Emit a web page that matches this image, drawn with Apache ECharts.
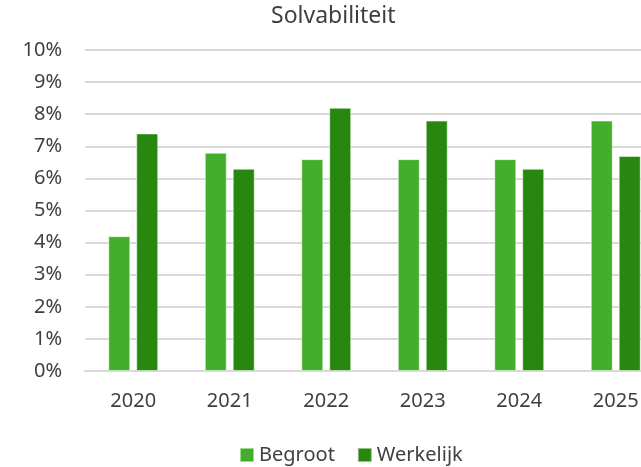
<!DOCTYPE html>
<html>
<head>
<meta charset="utf-8">
<script src="https://cdn.jsdelivr.net/npm/echarts@6/dist/echarts.min.js"></script>
<style>
  html, body { margin: 0; padding: 0; background: #fff; }
  #chart { width: 641px; height: 467px; }
</style>
</head>
<body>
<div id="chart"></div>
<script>
// jaren
const years = ['2020', '2021', '2022', '2023', '2024', '2025'];
// solvabiliteit in procenten
const begroot = [4.2, 6.8, 6.6, 6.6, 6.6, 7.8];
const werkelijk = [7.4, 6.3, 8.2, 7.8, 6.3, 6.7];

const font = '"Noto Sans", sans-serif';
const textColor = '#404040';

const chart = echarts.init(document.getElementById('chart'));

chart.setOption({
    animation: false,
    title: {
        text: 'Solvabiliteit',
        left: 266,
        top: 0,
        textStyle: { fontFamily: font, fontSize: 23, fontWeight: 'normal', color: textColor },
    },
    legend: {
        left: 234,
        top: 440,
        itemWidth: 14,
        itemHeight: 14,
        itemGap: 22,
        icon: 'rect',
        textStyle: { fontFamily: font, fontSize: 20, color: textColor },
        data: ['Begroot', 'Werkelijk'],
    },
    // plot loopt rechts buiten het beeld door
    grid: { left: 85, top: 50, width: 579, height: 321, outerBoundsMode: 'none' },
    xAxis: {
        type: 'category',
        data: years,
        axisLine: { lineStyle: { color: '#d9d9d9', width: 2 } },
        axisTick: { show: false },
        axisLabel: { margin: 20, fontFamily: font, fontSize: 20, color: textColor },
    },
    yAxis: {
        type: 'value',
        min: 0,
        max: 10,
        interval: 1,
        axisLine: { show: false },
        axisTick: { show: false },
        splitLine: { lineStyle: { color: '#d9d9d9', width: 2 } },
        axisLabel: {
            formatter: '{value}%',
            margin: 23,
            fontFamily: font,
            fontSize: 20,
            color: textColor,
        },
    },
    series: [
        {
            name: 'Begroot',
            type: 'bar',
            data: begroot,
            barWidth: 22,
            barGap: '27%',
            itemStyle: { color: '#43ae2b', borderColor: 'rgba(255,255,255,0.5)', borderWidth: 1 },
        },
        {
            name: 'Werkelijk',
            type: 'bar',
            data: werkelijk,
            barWidth: 22,
            itemStyle: { color: '#27870f', borderColor: 'rgba(255,255,255,0.5)', borderWidth: 1 },
        },
    ],
});
</script>
</body>
</html>
